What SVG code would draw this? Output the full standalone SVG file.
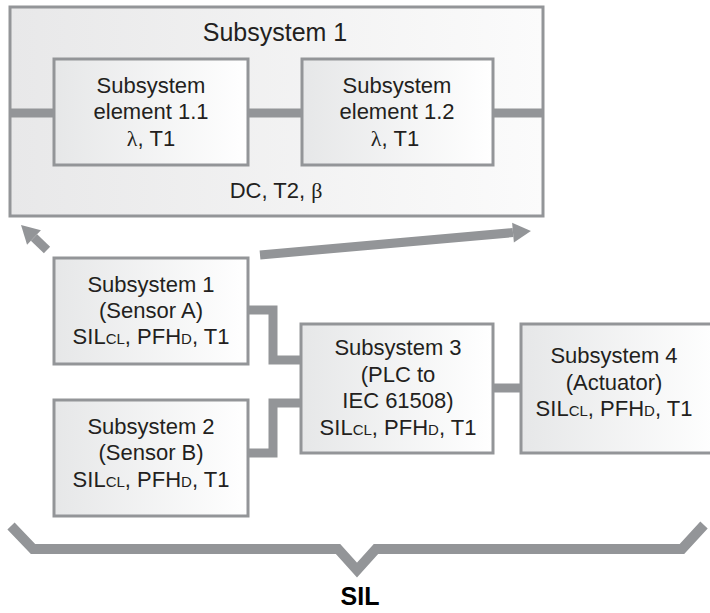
<svg xmlns="http://www.w3.org/2000/svg" width="710" height="613" viewBox="0 0 710 613">
<style>
.box{stroke:#939598;stroke-width:3}
.t{font-family:"Liberation Sans",Arial,sans-serif;font-size:22px;fill:#231f20;text-anchor:middle}
.title{font-size:25px}
.sc{font-size:15px}
.gr{font-family:"Liberation Serif","Times New Roman",serif}
.wire{fill:none;stroke:#939598;stroke-width:9}
.sil{font-family:"Liberation Sans",Arial,sans-serif;font-size:25px;font-weight:bold;fill:#000;text-anchor:middle}
</style>
<defs>
<linearGradient id="g" x1="0" y1="0" x2="1" y2="0">
<stop offset="0" stop-color="#e6e7e8"/>
<stop offset="1" stop-color="#ffffff"/>
</linearGradient>
<linearGradient id="gOuter" x1="0" y1="0" x2="1" y2="0">
<stop offset="0" stop-color="#e8e8e9"/>
<stop offset="1" stop-color="#fbfbfb"/>
</linearGradient>
<marker id="ah" markerUnits="userSpaceOnUse" markerWidth="18" markerHeight="20" refX="0" refY="10" orient="auto" overflow="visible">
<path d="M0,0 L18,10 L0,20 z" fill="#939598"/>
</marker>
</defs>

<g id="subsystem1-detail">
<rect class="box" x="10" y="7" width="533" height="209" fill="url(#gOuter)"/>
<text class="t title" x="275" y="41">Subsystem 1</text>
<text class="t" x="276" y="198">DC, T2, <tspan class="gr">β</tspan></text>
</g>

<g id="connectors">
<line class="wire" x1="10" y1="113" x2="54" y2="113"/>
<line class="wire" x1="248" y1="113" x2="302" y2="113"/>
<line class="wire" x1="493" y1="113" x2="543" y2="113"/>
<polyline class="wire" points="248,310 273,310 273,360 301,360"/>
<polyline class="wire" points="248,453 273,453 273,403 301,403"/>
<line class="wire" x1="493" y1="388" x2="521" y2="388"/>
<line class="wire" stroke-width="8" x1="47" y1="250" x2="34" y2="237.5" marker-end="url(#ah)"/>
<line class="wire" stroke-width="8" x1="260" y1="255" x2="513" y2="232.6" marker-end="url(#ah)"/>
</g>

<g id="element1-1">
<rect class="box" x="54" y="59" width="194" height="106" fill="url(#g)"/>
<text class="t" x="151" y="93">Subsystem</text>
<text class="t" x="151" y="119">element 1.1</text>
<text class="t" x="151" y="146"><tspan class="gr">λ</tspan>, T1</text>
</g>

<g id="element1-2">
<rect class="box" x="302" y="59" width="191" height="106" fill="url(#g)"/>
<text class="t" x="397" y="93">Subsystem</text>
<text class="t" x="397" y="119">element 1.2</text>
<text class="t" x="395" y="146"><tspan class="gr">λ</tspan>, T1</text>
</g>

<g id="sensorA">
<rect class="box" x="54" y="258" width="194" height="106" fill="url(#g)"/>
<text class="t" x="151" y="292">Subsystem 1</text>
<text class="t" x="151" y="318">(Sensor A)</text>
<text class="t" x="151" y="344">SIL<tspan class="sc">CL</tspan>, PFH<tspan class="sc">D</tspan>, T1</text>
</g>

<g id="sensorB">
<rect class="box" x="54" y="400" width="194" height="116" fill="url(#g)"/>
<text class="t" x="151" y="434">Subsystem 2</text>
<text class="t" x="151" y="460">(Sensor B)</text>
<text class="t" x="151" y="487">SIL<tspan class="sc">CL</tspan>, PFH<tspan class="sc">D</tspan>, T1</text>
</g>

<g id="subsystem3">
<rect class="box" x="301" y="324" width="192" height="129" fill="url(#g)"/>
<text class="t" x="398" y="355">Subsystem 3</text>
<text class="t" x="398" y="382">(PLC to</text>
<text class="t" x="398" y="408">IEC 61508)</text>
<text class="t" x="398" y="435">SIL<tspan class="sc">CL</tspan>, PFH<tspan class="sc">D</tspan>, T1</text>
</g>

<g id="subsystem4">
<rect class="box" x="521" y="324" width="200" height="129" fill="url(#g)"/>
<text class="t" x="614" y="363">Subsystem 4</text>
<text class="t" x="614" y="390">(Actuator)</text>
<text class="t" x="614" y="416">SIL<tspan class="sc">CL</tspan>, PFH<tspan class="sc">D</tspan>, T1</text>
</g>

<g id="sil-brace">
<polyline points="11,526 33,549 338,549 357,570 376,549 682,549 704,525" fill="none" stroke="#939598" stroke-width="10" stroke-linejoin="miter"/>
<text class="sil" x="360" y="605">SIL</text>
</g>
</svg>
